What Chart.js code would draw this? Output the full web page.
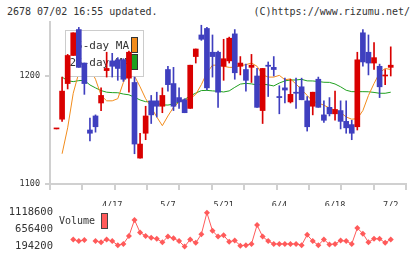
<!DOCTYPE html>
<html>
<head>
<meta charset="utf-8">
<script src="https://cdn.jsdelivr.net/npm/chart.js@4.4.1/dist/chart.umd.min.js"></script>
<style>
body { margin: 0; background: #fff; }
#wrap { position: relative; width: 420px; height: 259px; overflow: hidden; font-family: 'DejaVu Sans Mono', monospace; color: #333; }
.hd { position: absolute; top: 6px; font-size: 10px; line-height: 12px; white-space: nowrap; }
canvas { position: absolute; left: 0; }
</style>
</head>
<body>
<div id="wrap">
  <div class="hd" style="left:7px">2678 07/02 16:55 updated.</div>
  <div class="hd" style="right:10px">(C)https://www.rizumu.net/</div>
  <canvas id="main" width="420" height="206" style="top:0"></canvas>
  <canvas id="vol" width="420" height="59" style="top:200px"></canvas>
</div>
<script>
// daily candles, oldest first (61 trading days, last = 7/2)
const opens  = [1151,1160,1193,1219,1243,1212,1150,1163,1175,1205,1214,1215,1215,1198,1194,1124,1147,1177,1177,1172,1206,1193,1180,1178,1170,1218,1238,1244,1222,1222,1209,1214,1239,1209,1206,1208,1200,1168,1210,1208,1181,1189,1176,1185,1190,1177,1172,1197,1164,1171,1165,1168,1158,1155,1153,1240,1222,1212,1209,1200,1208];
const highs  = [1151,1199,1220,1240,1245,1212,1161,1164,1189,1222,1221,1217,1216,1223,1199,1147,1172,1182,1185,1189,1209,1208,1189,1179,1210,1225,1247,1245,1238,1223,1234,1236,1243,1218,1211,1220,1207,1207,1213,1218,1191,1198,1197,1198,1198,1181,1185,1199,1177,1180,1186,1177,1177,1159,1222,1243,1238,1231,1211,1206,1227];
const lows   = [1151,1158,1188,1219,1208,1183,1140,1148,1168,1199,1199,1196,1195,1185,1128,1124,1141,1156,1162,1166,1186,1168,1170,1166,1170,1212,1233,1187,1199,1171,1196,1212,1197,1201,1186,1194,1171,1156,1181,1200,1165,1175,1175,1170,1178,1149,1164,1171,1157,1163,1159,1151,1147,1141,1150,1209,1201,1206,1180,1192,1200];
const closes = [1151,1186,1219,1240,1208,1193,1147,1153,1182,1207,1209,1207,1197,1222,1137,1137,1163,1164,1172,1182,1192,1172,1176,1166,1210,1225,1234,1189,1218,1185,1216,1235,1203,1212,1196,1210,1171,1207,1209,1206,1180,1187,1183,1184,1178,1153,1185,1171,1159,1165,1169,1158,1152,1147,1215,1213,1212,1217,1190,1200,1210];

// moving averages as drawn
const ma5  = [null,1128,1152,1184,1203,1212,1207,1197,1182,1177,1177,1179,1194,1205,1200,1190,1179,1171,1162,1154,1163,1171,1176,1178,1179,1183,1192,1203,1210,1210,1209,1208,1208,1209.5,1210.5,1212,1209,1201,1199,1199,1200.6,1196.5,1197.3,1192.5,1187.5,1182,1176.5,1175,1173,1170.3,1168.5,1166.5,1162,1160,1160.5,1168,1182,1193,1203,1207,1206];
const ma25 = [null,1199,1195.6,1194.8,1195.7,1196,1191.7,1189,1186.5,1185,1184.6,1184.5,1183.3,1182.6,1180.3,1177.8,1176.2,1176.4,1174.7,1173.2,1173.1,1174,1176,1178.3,1181.5,1184.2,1186.5,1186.7,1186.2,1185.9,1185.2,1186.2,1189.5,1192.5,1193.2,1192.7,1191.7,1192.5,1191.8,1190.8,1193.5,1195.5,1196.3,1196.3,1196.9,1195.5,1195.4,1194.9,1194.2,1194.1,1192.6,1190,1186.8,1185.5,1185.5,1185.5,1185.4,1184.8,1184,1184,1185];

const volume = [null,null,null,388900,342000,372500,null,342000,311500,388900,342000,231700,264600,482800,921500,576600,482800,435800,405300,311500,466300,419400,342000,194200,388900,295100,529700,1118600,623500,466300,499200,325600,358400,217700,231700,264600,780700,466300,342000,264600,264600,264600,264600,264600,231700,513300,342000,231700,388900,248200,264600,358400,342000,264600,700900,546100,311500,405300,405300,295100,388900];

const xLabels = ['4/17', '5/7', '5/21', '6/4', '6/18', '7/2'];
const xLabelIdx = [10, 20, 30, 40, 50, 60];
const yTicks = [1100, 1200];
const volTicks = [194200, 656400, 1118600];

const RED = '#d90000', BLUE = '#3f3fbf', ORANGE = '#f28c1c', GREEN = '#1fa01f', VOLC = '#ff5a5a';
const FONT = "'DejaVu Sans Mono', monospace";
const candleColors = opens.map((o, i) => closes[i] >= o ? RED : BLUE);

const xMin = -1.17, xMax = 62.74;

// legend box sits above the MA lines but under the candles
const maLegend = {
  id: 'maLegend',
  beforeDatasetDraw(chart, args) {
    if (args.index !== 0) return;
    const c = chart.ctx;
    c.save();
    c.fillStyle = '#fff';
    c.strokeStyle = '#cccccc';
    c.lineWidth = 1;
    c.fillRect(65.5, 30.5, 78, 46);
    c.strokeRect(65.5, 30.5, 78, 46);
    c.font = '11px ' + FONT;
    c.fillStyle = '#333';
    c.textAlign = 'right';
    c.textBaseline = 'middle';
    c.fillText('5-day MA', 129, 46);
    c.fillText('25-day MA', 129, 63);
    c.strokeStyle = '#333';
    c.fillStyle = ORANGE;
    c.fillRect(131.5, 37.5, 6, 15); c.strokeRect(131.5, 37.5, 6, 15);
    c.fillStyle = GREEN;
    c.fillRect(131.5, 54.5, 6, 15); c.strokeRect(131.5, 54.5, 6, 15);
    c.restore();
  }
};

new Chart(document.getElementById('main'), {
  type: 'bar',
  data: {
    datasets: [
      { type: 'bar', data: highs.map((h, i) => ({ x: i, y: [lows[i], h] })),
        backgroundColor: candleColors, barThickness: 1, grouped: false, order: 2 },
      { type: 'bar', data: opens.map((o, i) => ({ x: i, y: [o, closes[i]] })),
        backgroundColor: candleColors, barThickness: 5, minBarLength: 1, grouped: false, order: 1 },
      { type: 'line', data: ma5.map((v, i) => ({ x: i, y: v })), borderColor: ORANGE,
        borderWidth: 1, pointRadius: 0, tension: 0, order: 3 },
      { type: 'line', data: ma25.map((v, i) => ({ x: i, y: v })), borderColor: GREEN,
        borderWidth: 1, pointRadius: 0, tension: 0, order: 4 }
    ]
  },
  options: {
    responsive: false,
    animation: false,
    layout: { padding: { top: 22, right: 14, left: 0, bottom: 0 } },
    plugins: { legend: { display: false }, tooltip: { enabled: false } },
    scales: {
      x: {
        type: 'linear', min: xMin, max: xMax, position: 'bottom', offset: false,
        afterBuildTicks: s => { s.ticks = Array.from({ length: 12 }, (_, k) => ({ value: xMin + k * (xMax - xMin) / 11 })); },
        ticks: { display: false },
        grid: { drawOnChartArea: false, tickLength: 6, color: '#d0d0d0', lineWidth: 2, offset: false },
        border: { color: '#d0d0d0', width: 2 },
        afterFit: s => { s.height = 6; }
      },
      xl: {
        type: 'linear', min: xMin, max: xMax, position: 'bottom', offset: false,
        afterBuildTicks: s => { s.ticks = xLabelIdx.map(v => ({ value: v })); },
        ticks: { callback: (v, k) => xLabels[k], font: { family: FONT, size: 8.5 }, color: '#333',
                 padding: 3, maxRotation: 0, autoSkip: false },
        grid: { display: false, offset: false }, border: { display: false },
        afterFit: s => { s.height = 16; }
      },
      y: {
        min: 1100, max: 1250,
        afterBuildTicks: s => { s.ticks = yTicks.map(v => ({ value: v })); },
        ticks: { callback: v => String(v), font: { family: FONT, size: 8.5 }, color: '#333', padding: 5 },
        grid: { drawOnChartArea: false, tickLength: 5, color: '#d0d0d0', lineWidth: 2 },
        border: { color: '#d0d0d0', width: 2 },
        afterFit: s => { s.width = 50; }
      }
    }
  },
  plugins: [maLegend]
});

const volLegend = {
  id: 'volLegend',
  afterDraw(chart) {
    const c = chart.ctx;
    c.save();
    c.font = '10px ' + FONT;
    c.fillStyle = '#333';
    c.textBaseline = 'middle';
    c.fillText('Volume', 59, 21.5);
    c.fillStyle = VOLC;
    c.strokeStyle = '#444';
    c.lineWidth = 1;
    c.fillRect(101.5, 13.5, 6, 15);
    c.strokeRect(101.5, 13.5, 6, 15);
    c.restore();
  }
};

const vxMin = xMax - (406 - 56) * (xMax - xMin) / (406 - 50);

new Chart(document.getElementById('vol'), {
  type: 'line',
  data: {
    datasets: [{
      data: volume.map((v, i) => ({ x: i, y: v })),
      borderColor: VOLC, backgroundColor: VOLC, borderWidth: 1,
      pointStyle: 'rectRot', pointRadius: 3, pointBorderWidth: 0,
      spanGaps: false, clip: false, tension: 0
    }]
  },
  options: {
    responsive: false,
    animation: false,
    layout: { padding: { top: 5, right: 14, left: 0, bottom: 7 } },
    plugins: { legend: { display: false }, tooltip: { enabled: false } },
    scales: {
      x: { type: 'linear', min: vxMin, max: xMax, display: false },
      y: {
        min: 107200, max: 1212700,
        afterBuildTicks: s => { s.ticks = volTicks.map(v => ({ value: v })); },
        ticks: { callback: v => String(v), font: { family: FONT, size: 10.5 }, color: '#333', padding: 3 },
        grid: { display: false, drawTicks: false }, border: { display: false },
        afterFit: s => { s.width = 56; }
      }
    }
  },
  plugins: [volLegend]
});
</script>
</body>
</html>
